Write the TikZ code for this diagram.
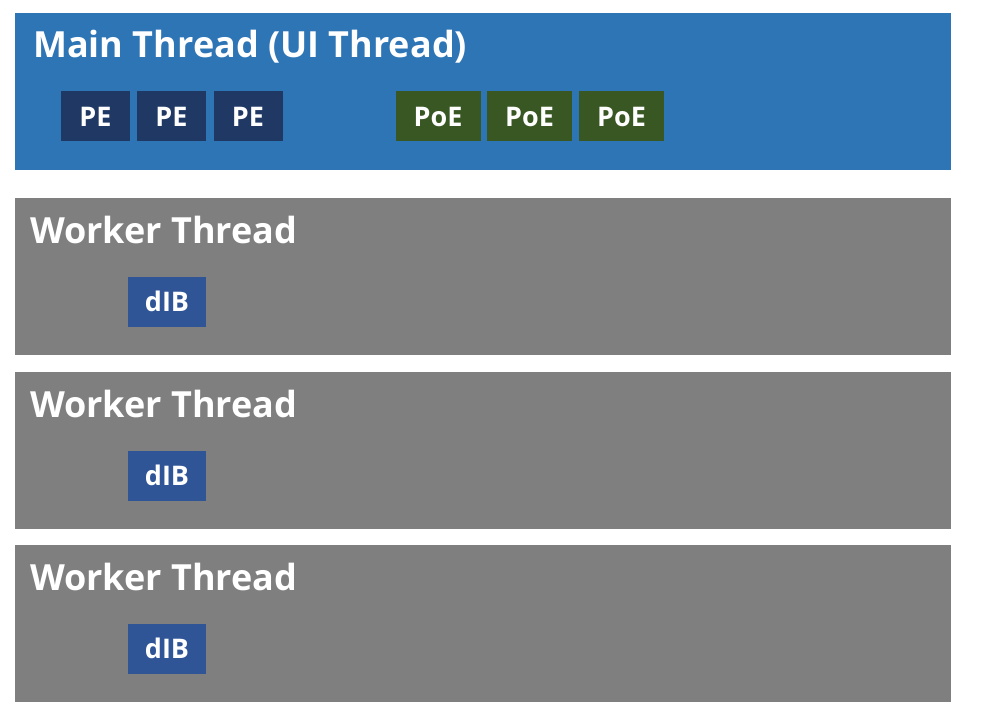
\documentclass[tikz,border=0pt]{standalone}
\usepackage{fontspec}
\setmainfont{Open Sans}
\usetikzlibrary{positioning}
\definecolor{mainblue}{HTML}{2E75B6}
\definecolor{workgray}{HTML}{7F7F7F}
\definecolor{peblue}{HTML}{1F3864}
\definecolor{poegreen}{HTML}{385723}
\definecolor{dibblue}{HTML}{2F5597}
\tikzstyle{thread}=[inner sep=0pt,outer sep=0pt,anchor=north west,minimum width=936pt,minimum height=157pt]
\tikzstyle{ttl}=[text=white,inner sep=0pt,anchor=base west,font=\bfseries\fontsize{36}{40}\selectfont]
\tikzstyle{blk}=[text=white,inner sep=0pt,outer sep=0pt,minimum height=50pt,font=\bfseries\fontsize{27}{30}\selectfont,text height=20pt,text depth=0pt]
\tikzstyle{pe}=[blk,fill=peblue,minimum width=69pt]
\tikzstyle{poe}=[blk,fill=poegreen,minimum width=85pt]
\tikzstyle{dib}=[blk,fill=dibblue,minimum width=78pt]

\begin{document}
\begin{tikzpicture}[x=1pt,y=-1pt]
  \useasboundingbox (0,0) rectangle (982,715);
  % main thread
  \node[thread,fill=mainblue] (main) at (15,13) {};
  \node[ttl] (mainttl) at (33,57.5) {Main Thread (UI Thread)};
  \foreach \i/\x in {1/95.5, 2/171.5, 3/248}
    {\node[pe] (pe\i) at (\x,116) {PE};}
  \foreach \i/\x in {1/438, 2/529.5, 3/621.5}
    {\node[poe] (poe\i) at (\x,116) {PoE};}
  % worker threads
  \foreach \i/\y in {1/198, 2/372, 3/545}
    {\node[thread,fill=workgray] (work\i) at (15,\y) {};
     \node[ttl] (workttl\i) at (30,\y+45) {Worker Thread};
     \node[dib] (dib\i) at (167,\y+103.5) {dIB};}
\end{tikzpicture}
\end{document}
